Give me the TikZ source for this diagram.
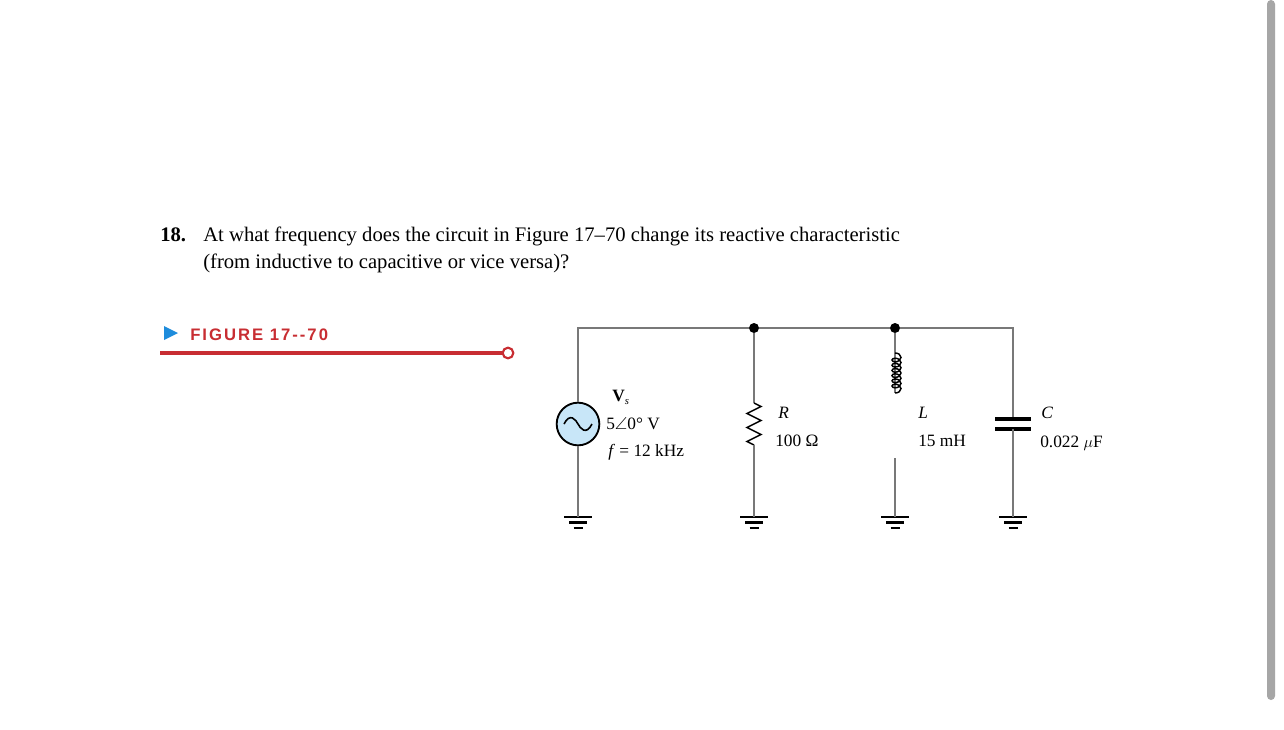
\documentclass[tikz,border=0pt]{standalone}
\usepackage{fontspec}
\setmainfont{Liberation Serif}
\newfontfamily\figfont[LetterSpace=12]{Liberation Sans}
\usepackage{amssymb}
\usetikzlibrary{calc}
\definecolor{wire}{RGB}{120,120,120}
\definecolor{figred}{RGB}{200,45,50}
\definecolor{figblue}{RGB}{30,140,220}
\definecolor{srcfill}{RGB}{200,230,248}
\begin{document}
\begin{tikzpicture}[x=0.75pt,y=-0.75pt,
  wireline/.style={draw=wire,line width=0.9pt},
  lbl/.style={anchor=west,inner sep=0pt,font=\fontsize{13}{15}\selectfont},
  dot/.style={circle,fill=black,inner sep=0pt,minimum size=7.5pt}]
\useasboundingbox (0,0) rectangle (1284,729);
\fill[white] (0,0) rectangle (1284,729);
\fill[gray!70,rounded corners=3pt] (1267,0) rectangle (1275,700);
% text
\node[anchor=base west,inner sep=0pt,font=\fontsize{15.5}{18}\selectfont\bfseries] (n18) at (160,241) {18.};
\node[anchor=base west,inner sep=0pt,font=\fontsize{15.5}{18}\selectfont] (q1) at (203,241) {At what frequency does the circuit in Figure 17--70 change its reactive characteristic};
\node[anchor=base west,inner sep=0pt,font=\fontsize{15.5}{18}\selectfont] (q2) at (203,268) {(from inductive to capacitive or vice versa)?};
\fill[figblue] (164,326) -- (178,333) -- (164,340) -- cycle;
\node[anchor=base west,inner sep=0pt,text=figred,font=\fontsize{12.5}{14}\selectfont\figfont\bfseries] (fig) at (190,340) {FIGURE 17--70};
\coordinate (ls) at (160,353);
\node[circle,draw=figred,line width=1.6pt,fill=white,minimum size=8pt,inner sep=0pt] (lc) at (508,353) {};
\draw[figred,line width=2.4pt] (ls) -- (lc.west);
% circuit coordinates
\coordinate (t1) at (578,328); \coordinate (t4) at (1013,328);
\node[dot] (d2) at (754,328) {}; \node[dot] (d3) at (895,328) {};
\node[circle,draw=black,line width=1.4pt,fill=srcfill,minimum size=32pt,inner sep=0pt] (src) at (578,424) {};
\draw[line width=1.2pt] ($(src)+(-14,0)$) .. controls ($(src)+(-8,-12)$) and ($(src)+(-2,-4)$) .. (src.center) .. controls ($(src)+(2,4)$) and ($(src)+(8,12)$) .. ($(src)+(14,0)$);
% grounds
\foreach \n/\x in {g1/578,g2/754,g3/895,g4/1013}{
  \coordinate (\n) at (\x,517);
  \draw[line width=1.8pt] (\x-14,517) -- (\x+14,517);
  \draw[line width=1.8pt] (\x-9,522.5) -- (\x+9,522.5);
  \draw[line width=2.2pt] (\x-4.5,528) -- (\x+4.5,528);
}
% wires
\draw[wireline] (src.north) -- (t1) -- (d2) -- (d3) -- (t4) -- (1013,419);
\draw[wireline] (src.south) -- (g1);
% resistor
\draw[wireline] (d2) -- (754,403);
\draw[line width=1.1pt] (754,403) -- (761,406.5) -- (747,413.5) -- (761,420.5) -- (747,427.5) -- (761,434.5) -- (747,441.5) -- (754,445);
\draw[wireline] (754,445) -- (g2);
% inductor
\draw[wireline] (d3) -- (895,393);
\draw[line width=1.1pt] (895,393) arc (90:-90:6 and 4.4)
  \foreach \i in {1,...,6}{ arc (270:90:3 and 1.8) arc (90:-90:6 and 4.4) };
\draw[wireline] (895,458) -- (g3);
% capacitor
\draw[line width=2.4pt] (995,419) -- (1031,419);
\draw[line width=2.4pt] (995,429) -- (1031,429);
\draw[wireline] (1013,429) -- (g4);
% labels
\node[lbl] (vs) at (612,397) {\textbf{V}\raisebox{-0.4ex}{\footnotesize\itshape s}};
\node[lbl] (vv) at (606,424) {5$\angle$0° V};
\node[lbl] (vf) at (608,452) {\textit{f} = 12 kHz};
\node[lbl] (rl) at (778,413) {\textit{R}};
\node[lbl] (rv) at (775,441) {100 Ω};
\node[lbl] (ll) at (918,413) {\textit{L}};
\node[lbl] (lv) at (918,441) {15 mH};
\node[lbl] (cl) at (1041,413) {\textit{C}};
\node[lbl] (cv) at (1040,443) {0.022 $\mu$F};
\end{tikzpicture}
\end{document}
